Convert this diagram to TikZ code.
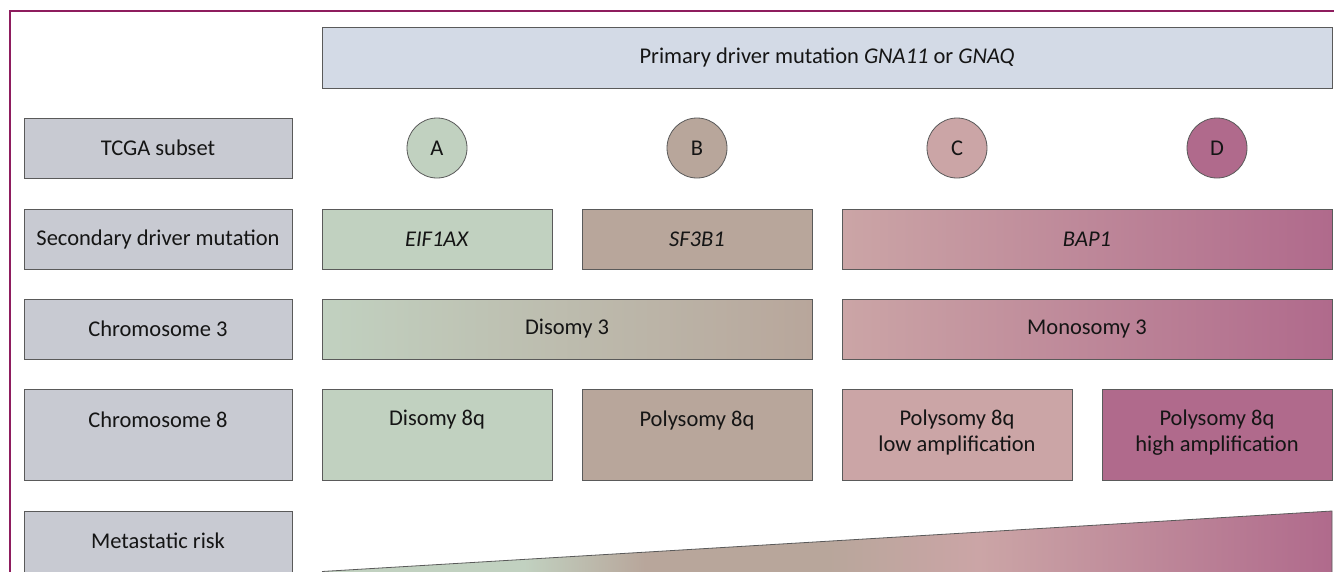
\documentclass[tikz,border=0pt]{standalone}
\usepackage{fontspec}
\setmainfont{Carlito}
\definecolor{frameC}{HTML}{8E1D5E}
\definecolor{topC}{HTML}{D3DAE6}
\definecolor{lblC}{HTML}{C8CAD2}
\definecolor{cA}{HTML}{C1D1C0}
\definecolor{cB}{HTML}{B8A69B}
\definecolor{cC}{HTML}{CBA5A6}
\definecolor{cD}{HTML}{B06A8C}
\definecolor{edgeC}{HTML}{5A5A5A}
\definecolor{txtC}{HTML}{151515}
\pgfdeclarehorizontalshading{riskshade}{100bp}{color(0bp)=(cA); color(25bp)=(cA); color(35bp)=(cA); color(41bp)=(cB); color(50bp)=(cB); color(57.5bp)=(cC); color(75bp)=(cD); color(100bp)=(cD)}
\begin{document}
\begin{tikzpicture}[x=1pt,y=-1pt,
  every node/.style={text=txtC, font=\fontsize{22.5}{26}\selectfont},
  box/.style={draw=edgeC, line width=0.8pt, rectangle, inner sep=0pt, minimum height=60pt},
  lblbox/.style={box, fill=lblC, minimum width=268pt},
  colbox/.style={box, minimum width=230pt},
  widebox/.style={box, minimum width=490pt},
  tallbox/.style={box, minimum width=230pt, minimum height=91pt, anchor=north},
  tcga/.style={circle, draw=edgeC, line width=0.8pt, minimum size=60pt, inner sep=0pt},
  toptext/.style={anchor=center, align=center, inner sep=0pt}
]
\useasboundingbox (0,0) rectangle (1334,571);
\clip (0,0) rectangle (1334,571);
\fill[white] (0,0) rectangle (1334,571);
% frame
\draw[frameC, line width=2pt] (10,580) -- (10,11) -- (1340,11);

% top box
\node[box, fill=topC, minimum width=1010pt, minimum height=61pt] (primary) at (827,57.5) {Primary driver mutation \textit{GNA11} or \textit{GNAQ}};

% left labels
\node[lblbox] (lTCGA) at (158,148) {TCGA subset};
\node[lblbox] (lSec) at (158,239) {Secondary driver mutation};
\node[lblbox] (lChr3) at (158,329) {Chromosome 3};
\node[lblbox, minimum height=91pt, anchor=north] (lChr8) at (158,389) {};
\node[toptext] (lChr8t) at ([yshift=-31pt]lChr8.north) {Chromosome 8};
\node[lblbox, minimum height=91pt, anchor=north] (lRisk) at (158,511) {};
\node[toptext] (lRiskt) at ([yshift=-30pt]lRisk.north) {Metastatic risk};

% circles
\node[tcga, fill=cA] (cirA) at (437,148) {A};
\node[tcga, fill=cB] (cirB) at (697,148) {B};
\node[tcga, fill=cC] (cirC) at (957,148) {C};
\node[tcga, fill=cD] (cirD) at (1217,148) {D};

% secondary driver
\node[colbox, fill=cA] (eif) at (437,239) {\textit{EIF1AX}};
\node[colbox, fill=cB] (sf3) at (697,239) {\textit{SF3B1}};
\node[widebox, left color=cC, right color=cD] (bap) at (1087,239) {\textit{BAP1}};

% chromosome 3
\node[widebox, left color=cA, right color=cB] (dis3) at (567,329) {Disomy 3};
\node[widebox, left color=cC, right color=cD] (mono3) at (1087,329) {Monosomy 3};

% chromosome 8
\node[tallbox, fill=cA] (c8a) at (437,389) {};
\node[toptext] (c8at) at ([yshift=-31pt]c8a.north) {Disomy 8q};
\node[tallbox, fill=cB] (c8b) at (697,389) {};
\node[toptext] (c8bt) at ([yshift=-31pt]c8b.north) {Polysomy 8q};
\node[tallbox, fill=cC] (c8c) at (957,389) {};
\node[toptext, anchor=north] (c8ct) at ([yshift=-21pt]c8c.north) {Polysomy 8q\\low amplification};
\node[tallbox, fill=cD] (c8d) at (1217,389) {};
\node[toptext, anchor=north] (c8dt) at ([yshift=-21pt]c8d.north) {Polysomy 8q\\high amplification};

% metastatic risk wedge
\path[shading=riskshade] (322,571.5) -- (1332,511) -- (1332,590) -- (322,590) -- cycle;
\draw[edgeC, line width=0.8pt] (322,571.5) -- (1332,511) -- (1332,590);
\end{tikzpicture}
\end{document}
